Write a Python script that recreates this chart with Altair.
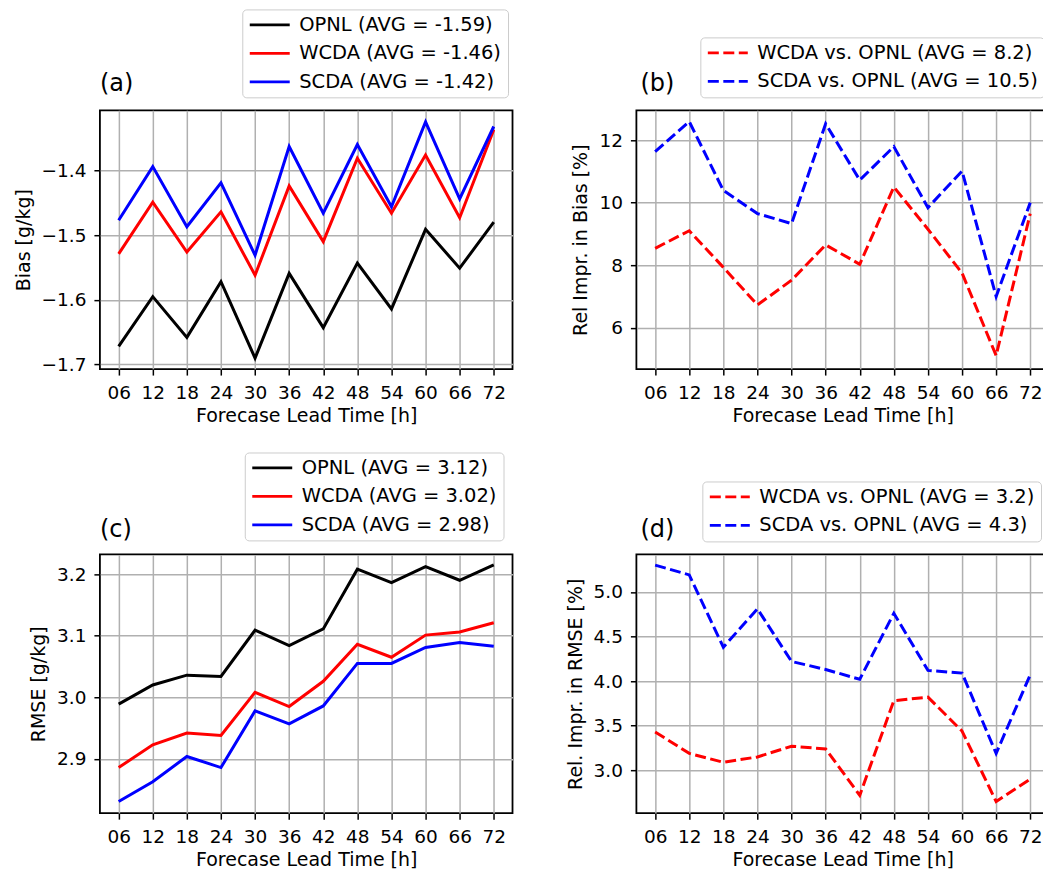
import altair as alt
import pandas as pd

lead = [6, 12, 18, 24, 30, 36, 42, 48, 54, 60, 66, 72]

bias_opnl = [-1.672, -1.595, -1.658, -1.572, -1.690, -1.559, -1.643, -1.543, -1.614, -1.491, -1.551, -1.480]
bias_wcda = [-1.529, -1.449, -1.526, -1.464, -1.562, -1.424, -1.510, -1.381, -1.466, -1.376, -1.473, -1.337]
bias_scda = [-1.477, -1.394, -1.487, -1.419, -1.531, -1.363, -1.466, -1.360, -1.456, -1.325, -1.444, -1.332]

imp_bias_wcda = [8.54, 9.10, 7.93, 6.73, 7.52, 8.65, 8.03, 10.50, 9.15, 7.75, 5.11, 9.65]
imp_bias_scda = [11.63, 12.59, 10.39, 9.65, 9.33, 12.52, 10.72, 11.79, 9.84, 11.01, 7.00, 10.00]

rmse_opnl = [2.989, 3.020, 3.036, 3.034, 3.109, 3.084, 3.111, 3.208, 3.186, 3.212, 3.190, 3.215]
rmse_wcda = [2.886, 2.923, 2.942, 2.938, 3.008, 2.985, 3.026, 3.086, 3.065, 3.101, 3.106, 3.121]
rmse_scda = [2.831, 2.863, 2.904, 2.886, 2.978, 2.957, 2.986, 3.055, 3.055, 3.081, 3.089, 3.083]

imp_rmse_wcda = [3.43, 3.19, 3.09, 3.15, 3.27, 3.24, 2.72, 3.78, 3.82, 3.44, 2.65, 2.90]
imp_rmse_scda = [5.30, 5.19, 4.38, 4.81, 4.22, 4.13, 4.02, 4.76, 4.12, 4.09, 3.19, 4.07]

labels_a = ["OPNL (AVG = -1.59)", "WCDA (AVG = -1.46)", "SCDA (AVG = -1.42)"]
labels_b = ["WCDA vs. OPNL (AVG = 8.2)", "SCDA vs. OPNL (AVG = 10.5)"]
labels_c = ["OPNL (AVG = 3.12)", "WCDA (AVG = 3.02)", "SCDA (AVG = 2.98)"]
labels_d = ["WCDA vs. OPNL (AVG = 3.2)", "SCDA vs. OPNL (AVG = 4.3)"]

panel_tags = ["(a)", "(b)", "(c)", "(d)"]

colors3 = ["#000000", "#ff0000", "#0000ff"]
colors2 = ["#ff0000", "#0000ff"]

W, H = 413, 259
FONT = "DejaVu Sans"


def long_df(labels, series):
    rows = []
    for lab, vals in zip(labels, series):
        for t, v in zip(lead, vals):
            rows.append({"lead": t, "value": v, "series": lab})
    return pd.DataFrame(rows)


def panel(df, labels, colors, dashed, ytitle, ydomain, yticks, yfmt, tag, lx, ly, tag_x, tag_y):
    legend_kw = dict(
        orient="none", legendX=lx, legendY=ly, title=None,
        labelFontSize=19.5, labelFont=FONT, labelColor="black", labelLimit=600,
        symbolType="M-1,0H1", symbolSize=1600, symbolStrokeWidth=2.8,
        clipHeight=19, rowPadding=8.5, padding=6, labelOffset=8,
        strokeColor="#cccccc", fillColor="white", cornerRadius=4,
    )
    if dashed:
        legend_kw["symbolDash"] = [11, 4.5]
    x = alt.X("lead:Q",
              scale=alt.Scale(domain=[2.7, 75.3], nice=False, zero=False),
              axis=alt.Axis(values=lead, format="02d", title="Forecase Lead Time [h]",
                            labelFlush=False, labelOverlap=False))
    y = alt.Y("value:Q",
              scale=alt.Scale(domain=ydomain, nice=False, zero=False),
              axis=alt.Axis(values=yticks, format=yfmt, title=ytitle,
                            labelOverlap=False))
    color = alt.Color("series:N", sort=labels,
                      scale=alt.Scale(domain=labels, range=colors),
                      legend=alt.Legend(**legend_kw))
    mk = dict(strokeWidth=3, clip=True)
    if dashed:
        mk["strokeDash"] = [11, 4.5]
    lines = alt.Chart(df).mark_line(**mk).encode(x=x, y=y, color=color)
    label = (
        alt.Chart(pd.DataFrame({"tag": [tag]}))
        .mark_text(align="left", baseline="alphabetic", fontSize=24, font=FONT, color="black")
        .encode(text="tag:N", x=alt.value(tag_x), y=alt.value(tag_y))
    )
    return alt.layer(lines, label).properties(width=W, height=H)


pa = panel(long_df(labels_a, [bias_opnl, bias_wcda, bias_scda]), labels_a, colors3, False,
           "Bias [g/kg]", [-1.707, -1.307], [-1.7, -1.6, -1.5, -1.4], ".1f", panel_tags[0],
           142.5, -101, 0, -19)
pb = panel(long_df(labels_b, [imp_bias_wcda, imp_bias_scda]), labels_b, colors2, True,
           "Rel Impr. in Bias [%]", [4.68, 12.95], [6, 8, 10, 12], "d", panel_tags[1],
           64, -73, 4, -19)
pc = panel(long_df(labels_c, [rmse_opnl, rmse_wcda, rmse_scda]), labels_c, colors3, False,
           "RMSE [g/kg]", [2.812, 3.232], [2.9, 3.0, 3.1, 3.2], ".1f", panel_tags[2],
           145, -102, 0, -17)
pd_ = panel(long_df(labels_d, [imp_rmse_wcda, imp_rmse_scda]), labels_d, colors2, True,
            "Rel. Impr. in RMSE [%]", [2.52, 5.42], [3.0, 3.5, 4.0, 4.5, 5.0], ".1f", panel_tags[3],
            66, -73, 4, -17)

chart = (
    alt.concat(pa, pb, pc, pd_, columns=2, spacing={"row": 185.5, "column": 124}, bounds="flush")
    .resolve_scale(color="independent", x="independent", y="independent")
    .resolve_legend(color="independent")
    .properties(padding={"left": 5, "top": -1, "right": -7, "bottom": 4})
    .configure(font=FONT)
    .configure_view(stroke="black", strokeWidth=1.8)
    .configure_axis(
        grid=True, gridColor="#b0b0b0", gridWidth=1.5, domain=False,
        tickColor="black", tickSize=6, tickWidth=1.5,
        labelFont=FONT, labelFontSize=18.5, labelColor="black", labelPadding=8,
        titleFont=FONT, titleFontSize=19, titleFontWeight="normal", titleColor="black",
        titlePadding=8,
    )
    .configure_axisX(titlePadding=5)
)

chart.save("out.html", embed_options={"renderer": "svg", "actions": False})
